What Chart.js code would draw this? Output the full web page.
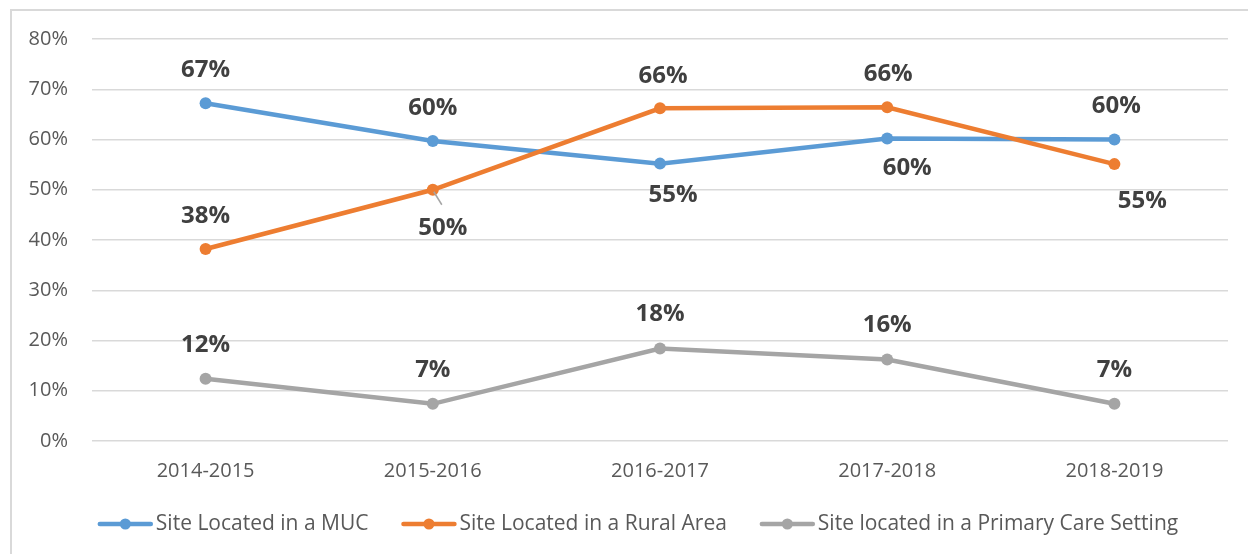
<!DOCTYPE html>
<html>
<head>
<meta charset="utf-8">
<script src="https://cdn.jsdelivr.net/npm/chart.js@4/dist/chart.umd.min.js"></script>
<style>
  html, body { margin: 0; padding: 0; background: #fff; }
</style>
</head>
<body>
<canvas id="siteChart" width="1248" height="554"></canvas>
<script>
// --- data ---
const jahre = ['2014-2015', '2015-2016', '2016-2017', '2017-2018', '2018-2019'];
const serienNamen = ['Site Located in a MUC', 'Site Located in a Rural Area', 'Site located in a Primary Care Setting'];
const mucWerte = [67.2, 59.7, 55.2, 60.2, 60.0];
const ruralWerte = [38.2, 50.0, 66.2, 66.4, 55.1];
const primaryWerte = [12.4, 7.4, 18.4, 16.2, 7.4];

const farben = ['#5B9BD5', '#ED7D31', '#A5A5A5'];

// label placement per point [dx, dy] relative to the point
const labelVersatz = [
  [[0, -33], [0, -33], [13, 32], [20, 30], [2, -33]],
  [[0, -33], [10, 38], [3, -32], [1, -33], [28, 37]],
  [[0, -34], [0, -34], [0, -34], [0, -34], [0, -34]]
];
// leader line for the 50% label
const leaderLinie = { ds: 1, idx: 1 };

const FONT = '"Open Sans", sans-serif';

// frame like the Excel chart area (top + left edge)
const rahmenPlugin = {
  id: 'rahmen',
  beforeDraw(chart) {
    const ctx = chart.ctx;
    ctx.save();
    ctx.strokeStyle = '#D9D9D9';
    ctx.lineWidth = 2;
    ctx.beginPath();
    ctx.moveTo(11, 554);
    ctx.lineTo(11, 10);
    ctx.lineTo(1248, 10);
    ctx.stroke();
    ctx.restore();
  }
};

// value labels
const wertPlugin = {
  id: 'wertLabels',
  afterDatasetsDraw(chart) {
    const ctx = chart.ctx;
    ctx.save();
    ctx.font = 'bold 24px ' + FONT;
    ctx.fillStyle = '#404040';
    ctx.textAlign = 'center';
    ctx.textBaseline = 'middle';
    chart.data.datasets.forEach((ds, i) => {
      const meta = chart.getDatasetMeta(i);
      meta.data.forEach((pt, j) => {
        const [dx, dy] = labelVersatz[i][j];
        if (i === leaderLinie.ds && j === leaderLinie.idx) {
          ctx.strokeStyle = '#A5A5A5';
          ctx.lineWidth = 1.5;
          ctx.beginPath();
          ctx.moveTo(pt.x + 1, pt.y + 2);
          ctx.lineTo(pt.x + 9, pt.y + 15);
          ctx.stroke();
        }
        ctx.fillText(Math.round(ds.data[j]) + '%', pt.x + dx, pt.y + dy);
      });
    });
    ctx.restore();
  }
};

// legend with line + marker, drawn by hand
const legendePlugin = {
  id: 'legende',
  afterDraw(chart) {
    const ctx = chart.ctx;
    ctx.save();
    ctx.font = '21px ' + FONT;
    const lineLen = 55, gapText = 3, gapItem = 33;
    const breiten = serienNamen.map(n => ctx.measureText(n).width);
    let total = 0;
    breiten.forEach((b, i) => { total += lineLen + gapText + b + (i < breiten.length - 1 ? gapItem : 0); });
    let x = 638 - total / 2;
    const y = 524;
    serienNamen.forEach((name, i) => {
      ctx.strokeStyle = farben[i];
      ctx.fillStyle = farben[i];
      ctx.lineWidth = 4.5;
      ctx.lineCap = 'round';
      ctx.beginPath();
      ctx.moveTo(x + 2, y);
      ctx.lineTo(x + lineLen - 2, y);
      ctx.stroke();
      ctx.beginPath();
      ctx.arc(x + lineLen / 2, y, 5.5, 0, Math.PI * 2);
      ctx.fill();
      ctx.fillStyle = '#595959';
      ctx.textAlign = 'left';
      ctx.textBaseline = 'middle';
      ctx.fillText(name, x + lineLen + gapText, y);
      x += lineLen + gapText + breiten[i] + gapItem;
    });
    ctx.restore();
  }
};

const werte = [mucWerte, ruralWerte, primaryWerte];
const datasets = werte.map((w, i) => ({
  label: serienNamen[i],
  data: w,
  borderColor: farben[i],
  backgroundColor: farben[i],
  borderWidth: 4.5,
  pointRadius: 6,
  pointHoverRadius: 6,
  pointBorderWidth: 0,
  tension: 0,
  order: 3 - i
}));

const config = {
  type: 'line',
  data: { labels: jahre, datasets: datasets },
  options: {
    responsive: false,
    animation: false,
    layout: { padding: { top: 39, right: 20, bottom: 53, left: 0 } },
    plugins: {
      legend: { display: false },
      tooltip: { enabled: false }
    },
    scales: {
      x: {
        offset: true,
        grid: { display: false, drawTicks: false },
        border: { display: false },
        ticks: { color: '#595959', font: { size: 20, family: FONT }, padding: 18, maxRotation: 0 },
        afterFit: (s) => { s.height = 60; }
      },
      y: {
        min: 0,
        max: 80,
        grid: { color: '#D9D9D9', lineWidth: 1.5, drawTicks: false },
        border: { display: false },
        ticks: {
          stepSize: 10,
          color: '#595959',
          font: { size: 20, family: FONT },
          padding: 24,
          callback: (v) => v + '%'
        },
        afterFit: (s) => { s.width = 92; }
      }
    }
  },
  plugins: [rahmenPlugin, wertPlugin, legendePlugin]
};

const chart = new Chart(document.getElementById('siteChart'), config);
</script>
</body>
</html>
